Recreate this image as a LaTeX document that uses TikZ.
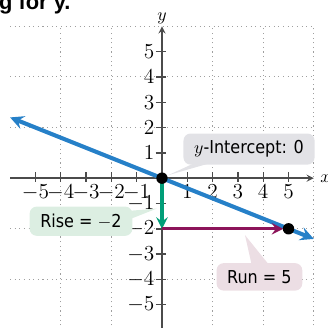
\documentclass[tikz,border=0pt]{standalone}
\usepackage{fontspec}
\usepackage{tikz}
\usetikzlibrary{calc,arrows}
\newfontfamily\titlefont{Liberation Sans}
\newfontfamily\calloutfont{DejaVu Sans Condensed}
\definecolor{lineblue}{RGB}{38,128,200}
\definecolor{risegreen}{RGB}{0,158,120}
\definecolor{runpurple}{RGB}{140,20,90}
\definecolor{axisgray}{RGB}{75,75,75}
\definecolor{boxgray}{RGB}{226,226,230}
\definecolor{boxgreen}{RGB}{220,238,226}
\definecolor{boxpink}{RGB}{236,222,228}
\tikzset{
  callout/.style={rounded corners=4pt,inner xsep=6pt,inner ysep=4pt,
    font=\calloutfont\fontsize{10}{12}\selectfont},
  ticklabel/.style={font=\fontsize{12}{14}\selectfont,inner sep=0.5pt}
}
\begin{document}
\begin{tikzpicture}[x=0.5cm,y=0.5cm,>=stealth]
			\useasboundingbox (-6.40,-5.89) rectangle (6.56,7.04);
			
			\node[anchor=base west,inner sep=0pt,font=\titlefont\bfseries\fontsize{12.3}{14}\selectfont] (title) at (-6.45,6.68) {g for y.};
			
			\draw[gray!75,dotted,line width=0.6pt] (-6,-6) grid (6,6);
			
			\coordinate (xl) at (-6,0);
			\coordinate (xr) at (6,0);
			\coordinate (yb) at (0,-6);
			\coordinate (yt) at (0,6);
			\draw[axisgray,thick,->] (xl)--(xr) node[right,black]{$x$};
			\draw[axisgray,thick,->] (yb)--(yt) node[above,black,inner sep=1pt]{$y$};
			
			\foreach \i in {-5,...,-1,1,2,...,5}{
				\draw[axisgray,thick] (\i,-0.15)--(\i,0.25);
				\node[ticklabel,below] at (\i,-0.2) {$\i$};
				\draw[axisgray,thick] (-0.25,\i)--(0.15,\i);
				\node[ticklabel,left] at (-0.25,\i) {$\i$};
			}
			
			\coordinate (O) at (0,0);
			\coordinate (D) at (0,-2);
			\coordinate (P) at (5,-2);
			\coordinate (L1) at (-6,2.4);
			\coordinate (L2) at (6,-2.4);
			
			\draw[lineblue,line width=2.3pt,<->] (L1)--(L2);
			\draw[risegreen,line width=1.8pt,->] (O)--(D);
			\draw[runpurple,line width=1.8pt,->,shorten >=3pt] (D)--(P);
			
			% callouts
			\fill[boxgray] (1.4,0.65)--(2.1,0.65)--(0.25,0.12)--cycle;
			\node[callout,fill=boxgray] (yint) at (3.44,1.15) {$y$-Intercept: 0};
			\fill[boxgreen] (-2.0,-1.35)--(-1.6,-1.75)--(-0.2,-1.2)--cycle;
			\node[callout,fill=boxgreen] (rise) at (-3.2,-1.7) {Rise = $-$2};
			\fill[boxpink] (3.55,-3.45)--(4.25,-3.45)--(3.28,-2.25)--cycle;
			\node[callout,fill=boxpink] (run) at (3.85,-3.9) {Run = 5};
			
			\fill (O) circle (3.2pt);
			\fill (P) circle (3.2pt);
		\end{tikzpicture}
\end{document}
